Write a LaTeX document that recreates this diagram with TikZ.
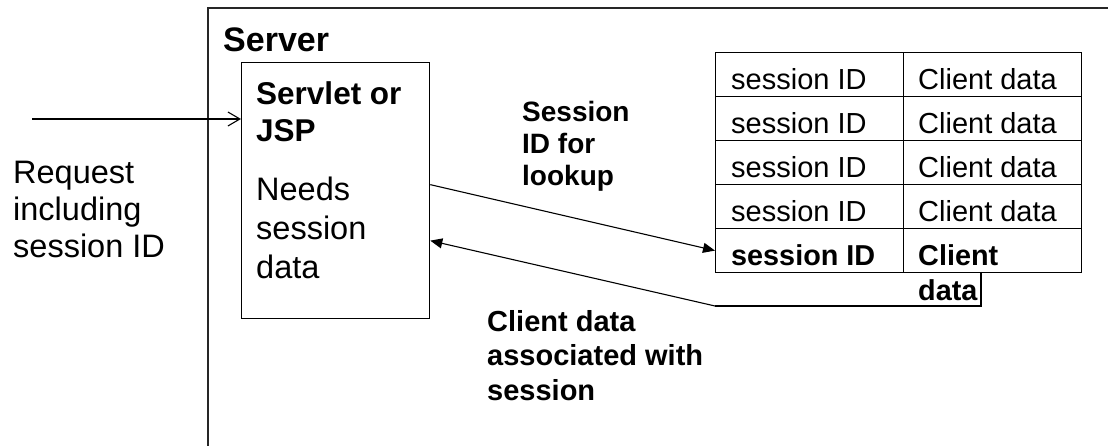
\documentclass[tikz,border=0pt]{standalone}
\usepackage{fontspec}
\setmainfont{Liberation Sans}
\usetikzlibrary{arrows.meta}
\begin{document}
\begin{tikzpicture}[x=1pt,y=-1pt,
  frame/.style={line width=1.6pt, draw=black!85},
  bx/.style={draw, line width=1.3pt, inner sep=0pt},
  cellA/.style={draw, line width=1.2pt, inner sep=0pt, minimum width=188pt, minimum height=44pt, anchor=north west},
  cellB/.style={draw, line width=1.2pt, inner sep=0pt, minimum width=178pt, minimum height=44pt, anchor=north west},
  txt/.style={inner sep=0pt, anchor=base west, align=left},
  reg/.style={txt, font=\fontsize{32.5}{39}\selectfont},
  regR/.style={txt, font=\fontsize{32.5}{37}\selectfont},
  tbl/.style={txt, font=\fontsize{29}{34}\selectfont},
  tblb/.style={txt, font=\fontsize{28.8}{35}\selectfont\bfseries},
  title/.style={txt, font=\fontsize{34}{40}\selectfont\bfseries},
  bld/.style={txt, font=\fontsize{31.5}{37}\selectfont\bfseries},
  lbl/.style={txt, font=\fontsize{28}{32}\selectfont\bfseries},
  lblb/.style={txt, font=\fontsize{29}{34.5}\selectfont\bfseries},
  openarrow/.style={line width=1.1pt, -{Straight Barb[length=12pt,width=14pt,line width=1.1pt]}},
  fillarrow/.style={line width=1.1pt, -{Triangle[length=12pt,width=10pt]}}
]
\useasboundingbox (0,0) rectangle (1108,446);
% server frame
\coordinate (sbl) at (208,446);
\coordinate (stl) at (208,8);
\coordinate (str) at (1108,8);
\draw[frame] (sbl) -- (stl) -- (str);
\node[title] (server) at (223,52) {Server};
% servlet box
\node[bx, minimum width=188pt, minimum height=256pt, anchor=north west] (servlet) at (241,62) {};
\node[bld] (servlettxt) at (256,142) {Servlet or\\JSP};
\node[reg] (needs) at (256,279) {Needs\\session\\data};
% request
\node[regR] (request) at (13,258) {Request\\including\\session ID};
\coordinate (in) at (32,119);
\draw[openarrow] (in) -- (servlet.west |- in);
% table
\node[cellA] (a1) at (715,52) {};
\node[cellB] (b1) at (903,52) {};
\node[cellA] (a2) at (715,96) {};
\node[cellB] (b2) at (903,96) {};
\node[cellA] (a3) at (715,140) {};
\node[cellB] (b3) at (903,140) {};
\node[cellA] (a4) at (715,184) {};
\node[cellB] (b4) at (903,184) {};
\node[cellA] (a5) at (715,228) {};
\node[cellB] (b5) at (903,228) {};
\node[tbl] (ta1) at ([shift={(16pt,8pt)}]a1.south west) {session ID};
\node[tbl] (tb1) at ([shift={(15pt,8pt)}]b1.south west) {Client data};
\node[tbl] (ta2) at ([shift={(16pt,8pt)}]a2.south west) {session ID};
\node[tbl] (tb2) at ([shift={(15pt,8pt)}]b2.south west) {Client data};
\node[tbl] (ta3) at ([shift={(16pt,8pt)}]a3.south west) {session ID};
\node[tbl] (tb3) at ([shift={(15pt,8pt)}]b3.south west) {Client data};
\node[tbl] (ta4) at ([shift={(16pt,8pt)}]a4.south west) {session ID};
\node[tbl] (tb4) at ([shift={(15pt,8pt)}]b4.south west) {Client data};
\node[tblb] (ta5) at ([shift={(16pt,8pt)}]a5.south west) {session ID};
\node[tblb] (tb5) at ([shift={(15pt,-27pt)}]b5.south west) {Client\\data};
% labels
\node[lbl] (lookup) at (522,186) {Session\\ID for\\lookup};
\node[lblb] (assoc) at (487,400) {Client data\\associated with\\session};
% arrows
\draw[fillarrow] ([yshift=6pt]servlet.east) -- (a5.west);
\coordinate (r0) at (981,272);
\coordinate (r1) at (981,306);
\coordinate (r2) at (715,306);
\draw[line width=1.1pt] (r0) -- (r1) -- (r2);
\draw[fillarrow] (r2) -- ([yshift=-50pt]servlet.east);
\end{tikzpicture}
\end{document}
